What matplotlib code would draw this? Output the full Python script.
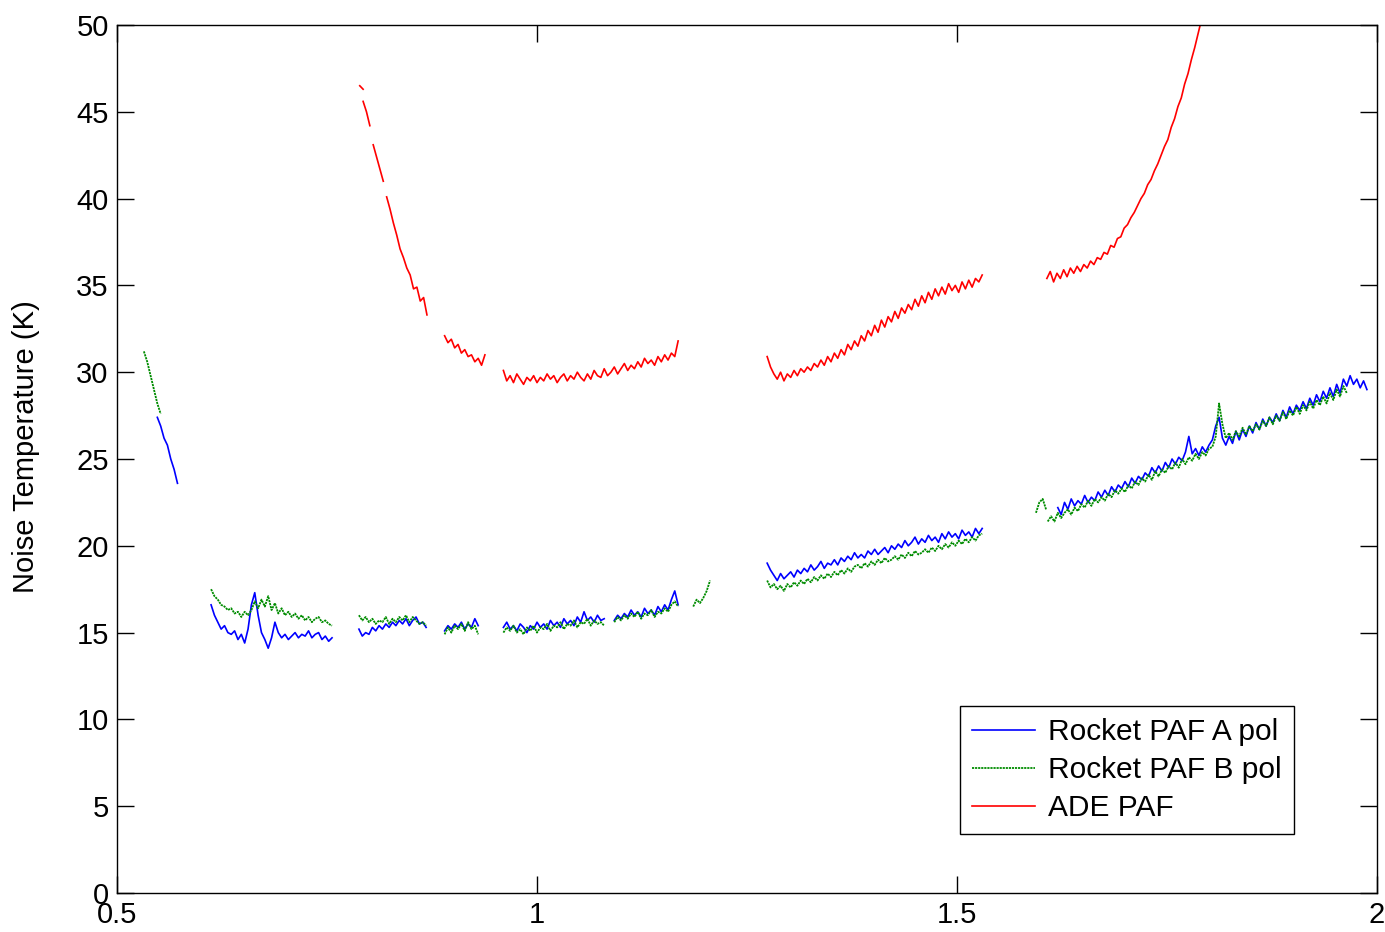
import numpy as np
import matplotlib.pyplot as plt

plt.rcParams['font.family'] = ['Liberation Sans', 'DejaVu Sans']

step = 0.004  # frequency spacing of the samples (GHz)

# ---- Rocket PAF A pol (blue) : (start frequency, values) ----
a_x0 = [0.548, 0.612, 0.788, 0.890, 0.960, 1.092, 1.274, 1.620]
a_y = [
    [27.4, 26.9, 26.2, 25.8, 25.0, 24.4, 23.6],
    [16.6, 16.0, 15.6, 15.2, 15.4, 15.0, 14.9, 15.1, 14.6, 14.9, 14.4, 15.2, 16.6,
     17.3, 16.0, 15.0, 14.6, 14.1, 14.7, 15.6, 15.0, 14.7, 14.9, 14.6, 14.8, 15.0,
     14.7, 14.9, 14.8, 15.1, 14.7, 14.9, 15.0, 14.6, 14.8, 14.5, 14.7],
    [15.2, 14.8, 15.0, 14.9, 15.3, 15.1, 15.4, 15.2, 15.5, 15.3, 15.6, 15.4, 15.7,
     15.5, 15.8, 15.4, 15.7, 15.9, 15.5, 15.6, 15.3],
    [15.1, 15.4, 15.2, 15.5, 15.3, 15.6, 15.2, 15.5, 15.3, 15.8, 15.4],
    [15.3, 15.6, 15.2, 15.4, 15.1, 15.5, 15.3, 15.0, 15.4, 15.2, 15.6, 15.3, 15.5,
     15.2, 15.7, 15.4, 15.6, 15.3, 15.8, 15.5, 15.7, 15.4, 15.9, 15.6, 16.2, 15.7,
     15.9, 15.6, 16.0, 15.7, 15.8],
    [15.7, 16.0, 15.8, 16.1, 15.9, 16.3, 16.0, 16.2, 15.9, 16.4, 16.1, 16.3, 16.0,
     16.5, 16.2, 16.6, 16.3, 16.9, 17.4, 16.6],
    [19.0, 18.6, 18.3, 18.0, 18.4, 18.1, 18.3, 18.5, 18.2, 18.6, 18.4, 18.7, 18.5,
     18.9, 18.6, 18.8, 19.1, 18.7, 19.0, 18.9, 19.2, 18.9, 19.3, 19.1, 19.4, 19.2,
     19.6, 19.3, 19.5, 19.3, 19.7, 19.5, 19.8, 19.5, 19.7, 19.9, 19.6, 20.0, 19.8,
     20.1, 19.9, 20.3, 20.0, 20.2, 20.5, 20.1, 20.4, 20.2, 20.6, 20.3, 20.5, 20.2,
     20.7, 20.4, 20.8, 20.5, 20.7, 20.4, 20.9, 20.6, 20.8, 20.5, 21.0, 20.7, 21.0],
    [22.2, 21.8, 22.5, 22.1, 22.7, 22.3, 22.6, 22.4, 22.9, 22.5, 22.8, 22.6, 23.1,
     22.8, 23.2, 22.9, 23.4, 23.1, 23.5, 23.3, 23.7, 23.4, 23.9, 23.6, 24.0, 23.8,
     24.2, 24.0, 24.5, 24.2, 24.6, 24.3, 24.8, 24.5, 25.0, 24.7, 25.1, 24.9, 25.4,
     26.3, 25.3, 25.6, 25.2, 25.7, 25.4, 25.8, 26.1, 26.9, 27.4, 26.2, 25.8, 26.3,
     25.9, 26.6, 26.1, 26.7, 26.3, 26.9, 26.5, 27.1, 26.7, 27.3, 26.9, 27.4, 27.1,
     27.6, 27.2, 27.8, 27.4, 28.0, 27.6, 28.1, 27.8, 28.3, 27.9, 28.5, 28.1, 28.7,
     28.3, 28.9, 28.5, 29.1, 28.6, 29.3, 28.8, 29.6, 29.2, 29.8, 29.3, 29.6, 29.1,
     29.5, 29.0],
]

# ---- Rocket PAF B pol (green) ----
b_x0 = [0.532, 0.612, 0.788, 0.890, 0.960, 1.092, 1.186, 1.274, 1.594, 1.608]
b_y = [
    [31.2, 30.6, 29.8, 29.0, 28.2, 27.6],
    [17.5, 17.1, 16.9, 16.6, 16.5, 16.3, 16.4, 16.1, 16.2, 15.9, 16.2, 16.0, 16.3,
     16.8, 16.4, 16.9, 16.5, 17.1, 16.3, 16.7, 16.1, 16.4, 16.0, 16.2, 15.9, 16.1,
     15.8, 16.0, 15.7, 15.9, 15.6, 15.8, 15.9, 15.6, 15.7, 15.5, 15.4],
    [16.0, 15.7, 15.9, 15.6, 15.8, 15.5, 15.7, 15.6, 15.9, 15.5, 15.8, 15.6, 15.9,
     15.7, 16.0, 15.6, 15.9, 15.7, 15.5, 15.6, 15.4],
    [14.9, 15.3, 15.0, 15.4, 15.2, 15.5, 15.1, 15.6, 15.2, 15.4, 14.9],
    [15.0, 15.3, 15.1, 15.4, 15.0, 15.2, 14.9, 15.3, 15.1, 15.4, 15.0, 15.3, 15.2,
     15.5, 15.1, 15.4, 15.3, 15.6, 15.2, 15.5, 15.4, 15.7, 15.3, 15.6, 15.5, 15.8,
     15.4, 15.7, 15.5, 15.6, 15.4],
    [15.6, 15.9, 15.7, 16.0, 15.8, 16.1, 15.9, 16.2, 15.8, 16.1, 16.0, 16.3, 15.9,
     16.2, 16.1, 16.4, 16.2, 16.6, 16.8, 16.5],
    [16.5, 16.9, 16.7, 17.0, 17.4, 18.0],
    [18.0, 17.6, 17.8, 17.5, 17.7, 17.4, 17.8, 17.6, 17.9, 17.7, 18.0, 17.8, 18.1,
     17.9, 18.2, 18.0, 18.3, 18.1, 18.4, 18.2, 18.5, 18.3, 18.6, 18.4, 18.7, 18.5,
     18.8, 18.9, 18.7, 19.0, 18.8, 19.1, 18.9, 19.2, 19.0, 19.3, 19.1, 19.2, 19.4,
     19.2, 19.5, 19.3, 19.6, 19.4, 19.7, 19.5, 19.6, 19.8, 19.6, 19.9, 19.7, 20.0,
     19.8, 20.1, 19.9, 20.2, 20.0, 20.3, 20.1, 20.4, 20.2, 20.5, 20.3, 20.6, 20.7],
    [21.9, 22.5, 22.7, 22.1],
    [21.4, 21.7, 21.4, 21.9, 21.6, 21.9, 22.1, 21.8, 22.2, 22.0, 22.4, 22.2, 22.6,
     22.3, 22.7, 22.5, 22.8, 22.6, 23.0, 22.8, 23.2, 23.0, 23.3, 23.1, 23.5, 23.3,
     23.7, 23.5, 23.9, 23.7, 24.1, 23.8, 24.3, 24.0, 24.4, 24.2, 24.6, 24.4, 24.8,
     24.5, 25.0, 24.7, 25.1, 24.9, 25.3, 25.0, 25.4, 25.2, 25.6, 25.7, 26.3, 28.2,
     27.0, 26.2, 26.5, 26.1, 26.6, 26.3, 26.8, 26.4, 26.9, 26.6, 27.0, 26.7, 27.2,
     26.9, 27.4, 27.0, 27.5, 27.2, 27.7, 27.3, 27.8, 27.5, 28.0, 27.6, 28.1, 27.8,
     28.3, 27.9, 28.4, 28.1, 28.6, 28.2, 28.8, 28.4, 29.0, 28.6, 29.2, 28.8],
]

# ---- ADE PAF (red) ----
r_x0 = [0.789, 0.793, 0.805, 0.821, 0.890, 0.960, 1.274, 1.607]
r_y = [
    [46.5, 46.3],
    [45.6, 45.0, 44.2],
    [43.1, 42.4, 41.7, 41.0],
    [40.1, 39.4, 38.6, 37.9, 37.1, 36.6, 36.0, 35.6, 34.8, 34.9, 34.1, 34.3, 33.3],
    [32.1, 31.7, 31.9, 31.4, 31.6, 31.1, 31.3, 30.9, 31.0, 30.6, 30.8, 30.4, 31.0],
    [30.1, 29.5, 29.8, 29.4, 29.9, 29.6, 29.3, 29.7, 29.5, 29.8, 29.4, 29.7, 29.5,
     29.9, 29.6, 29.8, 29.4, 29.7, 29.9, 29.5, 29.8, 29.6, 30.0, 29.7, 29.5, 29.9,
     29.6, 30.1, 29.8, 29.7, 30.2, 29.8, 30.0, 30.3, 29.9, 30.2, 30.5, 30.1, 30.4,
     30.2, 30.6, 30.3, 30.8, 30.5, 30.7, 30.4, 30.9, 30.6, 31.0, 30.7, 31.1, 30.9,
     31.8],
    [30.9, 30.3, 29.9, 29.6, 30.0, 29.5, 29.9, 29.7, 30.1, 29.8, 30.2, 30.0, 30.3,
     30.1, 30.5, 30.3, 30.7, 30.4, 30.9, 30.6, 31.1, 30.8, 31.3, 31.0, 31.6, 31.3,
     31.8, 31.5, 32.1, 31.8, 32.4, 32.1, 32.7, 32.3, 33.0, 32.6, 33.2, 32.9, 33.5,
     33.1, 33.7, 33.4, 33.9, 33.6, 34.2, 33.8, 34.4, 34.0, 34.6, 34.2, 34.8, 34.4,
     34.9, 34.5, 35.1, 34.7, 35.0, 34.6, 35.2, 34.8, 35.3, 34.9, 35.4, 35.2, 35.6],
    [35.4, 35.8, 35.2, 35.7, 35.4, 35.9, 35.5, 36.0, 35.7, 36.1, 35.8, 36.2, 36.0,
     36.4, 36.2, 36.6, 36.5, 36.9, 36.8, 37.3, 37.2, 37.7, 37.8, 38.3, 38.5, 38.9,
     39.2, 39.6, 40.0, 40.3, 40.8, 41.1, 41.6, 42.0, 42.5, 43.0, 43.4, 44.1, 44.6,
     45.3, 45.8, 46.6, 47.2, 48.0, 48.7, 49.5, 50.3, 51.2],
]


def join_segments(x0_list, y_list):
    # put NaN between the measured bands so the line breaks
    xs, ys = [], []
    for x0, y in zip(x0_list, y_list):
        xs.extend(list(x0 + step * np.arange(len(y))))
        ys.extend(y)
        xs.append(np.nan)
        ys.append(np.nan)
    return np.array(xs), np.array(ys)


fig = plt.figure(figsize=(13.85, 9.32), dpi=100)
ax = fig.add_axes([117 / 1385, 39 / 932, 1260 / 1385, 868 / 932])

xa, ya = join_segments(a_x0, a_y)
xb, yb = join_segments(b_x0, b_y)
xr, yr = join_segments(r_x0, r_y)

ax.plot(xa, ya, color='#0000ff', lw=1.2, label='Rocket PAF A pol')
ax.plot(xb, yb, color='#008c00', lw=1.3, ls=(0, (1.2, 0.5)), label='Rocket PAF B pol')
ax.plot(xr, yr, color='#ff0000', lw=1.2, label='ADE PAF')

ax.set_xlim(0.5, 2)
ax.set_ylim(0, 50)
ax.set_xticks([0.5, 1, 1.5, 2])
ax.set_xticklabels(['0.5', '1', '1.5', '2'])
ax.set_yticks(np.arange(0, 51, 5))
ax.tick_params(direction='in', length=12, width=1, top=True, right=True,
               labelsize=21, pad=6)
for s in ax.spines.values():
    s.set_linewidth(1.0)

ax.set_ylabel('Noise Temperature (K)', fontsize=21)
ax.yaxis.set_label_coords(-0.061, 0.514)

leg = ax.legend(loc='lower left', bbox_to_anchor=(0.669, 0.068), borderaxespad=0,
                fontsize=21.5, fancybox=False, framealpha=1, edgecolor='black',
                handlelength=2.1, handletextpad=0.45, labelspacing=0.33,
                borderpad=0.4)
leg.get_frame().set_linewidth(1.0)

fig.savefig('out.png', dpi=100)
